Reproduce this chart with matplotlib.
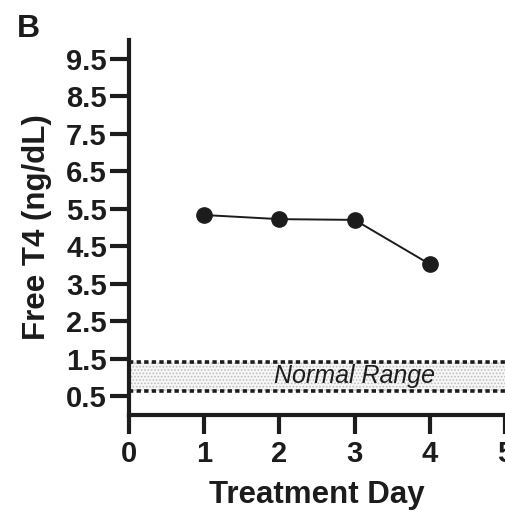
import matplotlib.pyplot as plt
from matplotlib.ticker import FixedLocator

plt.rcParams['font.family'] = ['Liberation Sans', 'DejaVu Sans']
plt.rcParams['hatch.color'] = '#bdbdbd'
plt.rcParams['hatch.linewidth'] = 0.8

# data
days = [1, 2, 3, 4]
free_t4 = [5.33, 5.22, 5.20, 4.02]
normal_low, normal_high = 0.65, 1.42
y_ticks = [0.5, 1.5, 2.5, 3.5, 4.5, 5.5, 6.5, 7.5, 8.5, 9.5]
x_ticks = [0, 1, 2, 3, 4, 5]

ink = '#1c1c1c'

fig = plt.figure(figsize=(5.06, 5.11), dpi=100)
ax = fig.add_axes([0.255, 0.188, 0.743, 0.734])

# normal range band
ax.fill_between([0, 5], normal_low, normal_high, facecolor='#f7f7f7',
                edgecolor='none', hatch='.....', zorder=1)
for yv in (normal_low, normal_high):
    ax.plot([0, 5], [yv, yv], color=ink, lw=2.6, ls=(0, (1.2, 0.9)),
            zorder=2, clip_on=False)
ax.text(3, (normal_low + normal_high) / 2, 'Normal Range', ha='center',
        va='center', fontsize=18, style='italic', color=ink, zorder=3)

ax.plot(days, free_t4, color=ink, lw=1.4, marker='o', ms=11,
        markerfacecolor=ink, markeredgecolor=ink, zorder=4)

ax.set_xlim(0, 5)
ax.set_ylim(0, 10)
ax.xaxis.set_major_locator(FixedLocator(x_ticks))
ax.yaxis.set_major_locator(FixedLocator(y_ticks))
ax.set_yticklabels([str(v) for v in y_ticks])

for side in ('top', 'right'):
    ax.spines[side].set_visible(False)
for side in ('left', 'bottom'):
    ax.spines[side].set_linewidth(3)
    ax.spines[side].set_color(ink)

ax.tick_params(axis='both', length=14, width=3, color=ink, labelcolor=ink,
               labelsize=21)
ax.tick_params(axis='x', pad=4)
ax.tick_params(axis='y', pad=2)
for lbl in ax.get_xticklabels() + ax.get_yticklabels():
    lbl.set_fontweight('bold')

ax.set_xlabel('Treatment Day', fontsize=22.5, fontweight='bold', color=ink)
ax.set_ylabel('Free T4 (ng/dL)', fontsize=22.5, fontweight='bold', color=ink)
ax.xaxis.set_label_coords(0.5, -0.174)
ax.yaxis.set_label_coords(-0.205, 0.5)

fig.text(0.033, 0.928, 'B', fontsize=23, fontweight='bold', color=ink)

fig.savefig('out.png', dpi=100)
